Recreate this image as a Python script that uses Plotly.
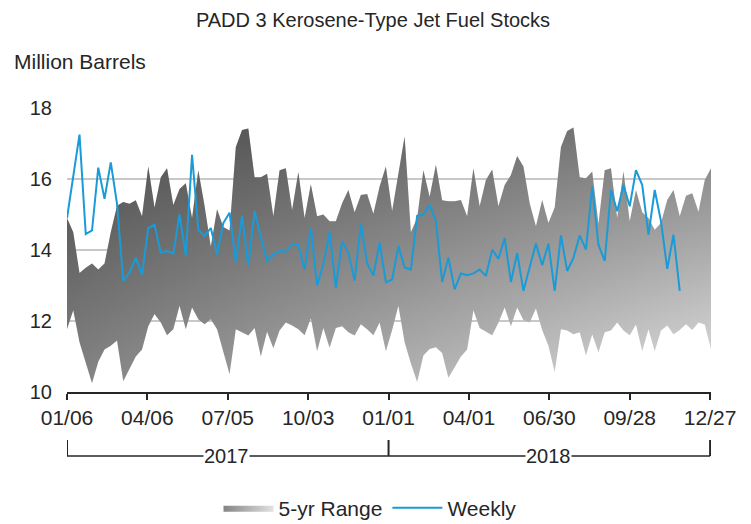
import plotly.graph_objects as go
import pandas as pd

# ---- data ----
start_date = "2017-01-06"
range_upper = [14.9, 14.5, 13.35, 13.5, 13.62, 13.45, 13.62, 14.5, 15.25, 15.35,
               15.3, 15.4, 14.95, 16.35, 15.2, 16.05, 16.3, 15.27, 15.72, 15.88,
               14.9, 16.25, 15.25, 14.1, 15.15, 14.65, 14.55, 16.9, 17.38, 17.42,
               16.05, 16.05, 16.15, 14.95, 16.25, 16.3, 15.13, 16.2, 14.9, 15.85,
               14.95, 15.0, 14.81, 14.81, 15.32, 15.69, 15.06, 15.55, 15.58, 15.02,
               15.79, 16.35, 15.1, 16.2, 17.2, 14.5, 14.9, 16.25, 15.5, 16.4,
               15.4, 15.37, 15.37, 15.41, 14.95, 16.3, 15.23, 15.97, 16.27, 15.23,
               15.83, 16.11, 16.65, 16.35, 15.32, 14.67, 15.41, 14.76, 15.2, 16.9,
               17.35, 17.45, 16.05, 16.02, 16.21, 14.75, 16.25, 16.3, 14.9, 16.22,
               14.81, 15.69, 15.06, 14.9, 14.57, 14.76, 15.41, 15.69, 14.95, 15.53,
               15.6, 15.08, 15.97, 16.3]
range_lower = [11.77, 12.3, 11.4, 10.8, 10.25, 10.85, 11.2, 11.3, 11.45, 10.3,
               10.65, 11.0, 11.2, 11.85, 12.2, 11.96, 11.6, 11.77, 12.43, 11.77,
               12.38, 12.05, 11.91, 12.05, 11.77, 11.12, 10.5, 11.77, 11.68, 11.59,
               11.8, 11.0, 11.7, 11.23, 11.73, 11.96, 11.87, 11.77, 11.6, 12.08,
               11.15, 11.8, 11.25, 11.8, 11.85, 11.68, 11.59, 11.91, 11.77, 11.6,
               11.96, 11.15, 11.75, 12.43, 11.4, 10.8, 10.28, 11.03, 11.21, 11.26,
               11.1, 10.4, 10.7, 11.0, 11.2, 12.3, 11.8, 11.7, 11.6, 11.95,
               12.38, 11.85, 12.38, 12.03, 11.96, 12.35, 11.75, 11.3, 10.56, 11.77,
               11.73, 11.63, 11.68, 11.03, 11.63, 11.12, 11.68, 11.73, 11.96, 11.73,
               11.6, 11.9, 11.15, 11.77, 11.15, 11.73, 11.87, 11.63, 11.75, 11.91,
               11.75, 11.96, 11.9, 11.2]
weekly = [14.9, 16.1, 17.25, 14.45, 14.55, 16.32, 15.44, 16.47, 15.3, 13.13,
          13.36, 13.78, 13.31, 14.62, 14.71, 13.92, 13.97, 13.9, 15.0, 13.85,
          16.68, 14.57, 14.39, 14.62, 13.87, 14.76, 15.05, 13.66, 14.97, 13.55,
          15.1, 14.36, 13.7, 13.87, 13.97, 13.95, 14.17, 14.15, 13.44, 14.62,
          13.0, 13.6, 14.5, 12.94, 14.25, 13.92, 13.14, 14.75, 13.62, 13.28,
          14.21, 13.09, 13.17, 14.11, 13.51, 13.45, 14.96, 15.0, 15.27, 14.82,
          13.1, 13.78, 12.89, 13.34, 13.29, 13.34, 13.45, 13.27, 14.01, 13.75,
          14.34, 13.1, 13.92, 12.85, 13.55, 14.18, 13.57, 14.18, 12.85, 14.41,
          13.41, 13.78, 14.41, 14.01, 15.79, 14.15, 13.69, 15.69, 15.09, 15.83,
          15.23, 16.25, 15.83, 14.43, 15.69, 14.81, 13.47, 14.43, 12.85]
tick_dates = ["2017-01-06", "2017-04-06", "2017-07-05", "2017-10-03", "2018-01-01",
              "2018-04-01", "2018-06-30", "2018-09-28", "2018-12-27"]
tick_labels = ["01/06", "04/06", "07/05", "10/03", "01/01", "04/01", "06/30", "09/28", "12/27"]
years = ["2017", "2018"]
year_centers = ["2017-07-04", "2018-06-29"]
year_bounds = ["2017-01-06", "2018-01-01", "2018-12-27"]

range_dates = pd.date_range(start_date, periods=len(range_upper), freq="7D")
weekly_dates = pd.date_range(start_date, periods=len(weekly), freq="7D")

FONT = "Liberation Sans, Arial, sans-serif"
TXT = "#262626"

fig = go.Figure()
# base horizontal gradient fill
fig.add_trace(go.Scatter(x=range_dates, y=range_lower, mode="lines",
                         line=dict(width=0), showlegend=False, hoverinfo="skip"))
fig.add_trace(go.Scatter(x=range_dates, y=range_upper, mode="lines", name="5-yr Range",
                         line=dict(width=0), fill="tonexty", fillcolor="#8c8c8c",
                         legendrank=1,
                         fillgradient=dict(type="horizontal",
                                           colorscale=[[0, "#848484"], [1, "#e2e2e2"]])))
# darkening overlay toward the top
fig.add_trace(go.Scatter(x=range_dates, y=range_lower, mode="lines",
                         line=dict(width=0), showlegend=False, hoverinfo="skip"))
fig.add_trace(go.Scatter(x=range_dates, y=range_upper, mode="lines",
                         line=dict(width=0), fill="tonexty", showlegend=False,
                         fillcolor="rgba(0,0,0,0.2)",
                         fillgradient=dict(type="vertical", start=10, stop=17.5,
                                           colorscale=[[0, "rgba(0,0,0,0)"],
                                                       [1, "rgba(0,0,0,0.45)"]])))
fig.add_trace(go.Scatter(x=weekly_dates, y=weekly, mode="lines", name="Weekly",
                         legendrank=2, line=dict(color="#1a9bd7", width=2)))

# year bracket
yb_top, yb_bot = -0.169, -0.225
for d in year_bounds:
    fig.add_shape(type="line", xref="x", yref="paper", x0=d, x1=d, y0=yb_top, y1=yb_bot,
                  line=dict(color="#262626", width=2))
fig.add_shape(type="line", xref="x", yref="paper", x0=year_bounds[0], x1=year_bounds[-1],
              y0=yb_bot, y1=yb_bot, line=dict(color="#262626", width=1.5))
for yr, c in zip(years, year_centers):
    fig.add_annotation(x=c, y=yb_bot, xref="x", yref="paper", text=yr, showarrow=False,
                       bgcolor="white", font=dict(family=FONT, size=20, color=TXT),
                       yanchor="middle", borderpad=0)

fig.add_annotation(text="Million Barrels", xref="paper", yref="paper", x=-0.085, y=1.162,
                   xanchor="left", yanchor="middle", showarrow=False,
                   font=dict(family=FONT, size=21, color=TXT))

W, H = 743, 516
fig.update_layout(
    width=W, height=H,
    margin=dict(l=59, r=40, t=100, b=132),
    paper_bgcolor="white", plot_bgcolor="white",
    title=dict(text="PADD 3 Kerosene-Type Jet Fuel Stocks", x=365 / W, xref="container",
               xanchor="center", y=1 - 11.5 / H, yref="container", yanchor="middle",
               font=dict(family=FONT, size=20, color=TXT)),
    xaxis=dict(type="date", range=["2017-01-06", "2018-12-28"], tickvals=tick_dates,
               ticktext=tick_labels, showgrid=False, showline=True, linecolor="#262626",
               linewidth=2, ticks="outside", ticklen=6, tickwidth=2, tickcolor="#262626",
               tickfont=dict(family=FONT, size=21, color=TXT), zeroline=False,
               automargin=False),
    yaxis=dict(range=[10, 18], tickvals=[10, 12, 14, 16, 18], showgrid=True,
               gridcolor="#c8c8c8", gridwidth=1.5, zeroline=False, showline=False,
               ticks="", ticklabelstandoff=14, automargin=False,
               tickfont=dict(family=FONT, size=20, color=TXT)),
    legend=dict(orientation="h", xref="container", yref="container",
                x=362 / W, xanchor="center", y=1 - 500 / H, yanchor="middle",
                font=dict(family=FONT, size=21, color=TXT), itemwidth=50,
                traceorder="normal"),
    showlegend=True,
)

fig.write_html("out.html")
